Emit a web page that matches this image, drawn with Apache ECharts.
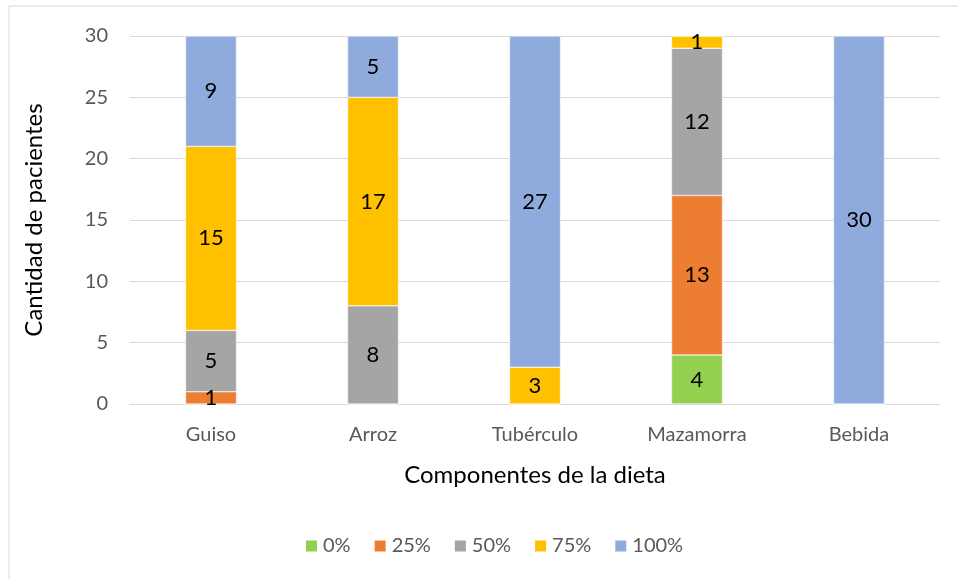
<!DOCTYPE html>
<html>
<head>
<meta charset="utf-8">
<style>
  html, body { margin: 0; padding: 0; background: #fff; }
  #chart { width: 958px; height: 579px; }
</style>
<script src="https://cdn.jsdelivr.net/npm/echarts@6/dist/echarts.min.js"></script>
</head>
<body>
<div id="chart"></div>
<script>
// datos del gráfico
const categories = ['Guiso', 'Arroz', 'Tubérculo', 'Mazamorra', 'Bebida'];
const seriesNames = ['0%', '25%', '50%', '75%', '100%'];
const values0 = [0, 0, 0, 4, 0];
const values25 = [1, 0, 0, 13, 0];
const values50 = [5, 8, 0, 12, 0];
const values75 = [15, 17, 3, 1, 0];
const values100 = [9, 5, 27, 0, 30];
const colors = ['#92D050', '#ED7D31', '#A5A5A5', '#FFC000', '#8FAADC'];

const chart = echarts.init(document.getElementById('chart'));
const font = 'Lato, "Open Sans", sans-serif';

const allValues = [values0, values25, values50, values75, values100];

const option = {
  animation: false,
  textStyle: { fontFamily: font },
  graphic: [{
    type: 'rect',
    shape: { x: 9, y: 6, width: 1000, height: 1000 },
    style: { fill: 'none', stroke: '#D9D9D9', lineWidth: 1 },
    silent: true
  }],
  grid: { left: 130, right: 18, top: 36, bottom: 175 },
  legend: {
    data: seriesNames,
    bottom: 18,
    left: 299,
    itemWidth: 13,
    itemHeight: 13,
    itemGap: 22,
    icon: 'rect',
    textStyle: { fontSize: 20, color: '#595959', fontFamily: font }
  },
  xAxis: {
    type: 'category',
    data: categories,
    name: 'Componentes de la dieta',
    nameLocation: 'middle',
    nameGap: 59,
    nameTextStyle: { fontSize: 24, color: '#000', fontFamily: font },
    axisLine: { lineStyle: { color: '#D9D9D9' } },
    axisTick: { show: false },
    axisLabel: { fontSize: 20, color: '#595959', margin: 21 }
  },
  yAxis: {
    type: 'value',
    min: 0,
    max: 30,
    interval: 5,
    name: 'Cantidad de pacientes',
    nameLocation: 'middle',
    nameGap: 84,
    nameTextStyle: { fontSize: 24, color: '#000', fontFamily: font },
    axisLine: { show: false },
    axisTick: { show: false },
    axisLabel: { fontSize: 20, color: '#595959', margin: 22 },
    splitLine: { lineStyle: { color: '#D9D9D9' } }
  },
  series: seriesNames.map((name, i) => ({
    name: name,
    type: 'bar',
    stack: 'total',
    barWidth: 51,
    data: allValues[i],
    itemStyle: { color: colors[i], borderColor: '#fff', borderWidth: 0.5 },
    label: {
      show: true,
      position: 'inside',
      fontSize: 22,
      color: '#000',
      fontFamily: font,
      formatter: p => (p.value === 0 ? '' : String(p.value))
    }
  }))
};

chart.setOption(option);
</script>
</body>
</html>
